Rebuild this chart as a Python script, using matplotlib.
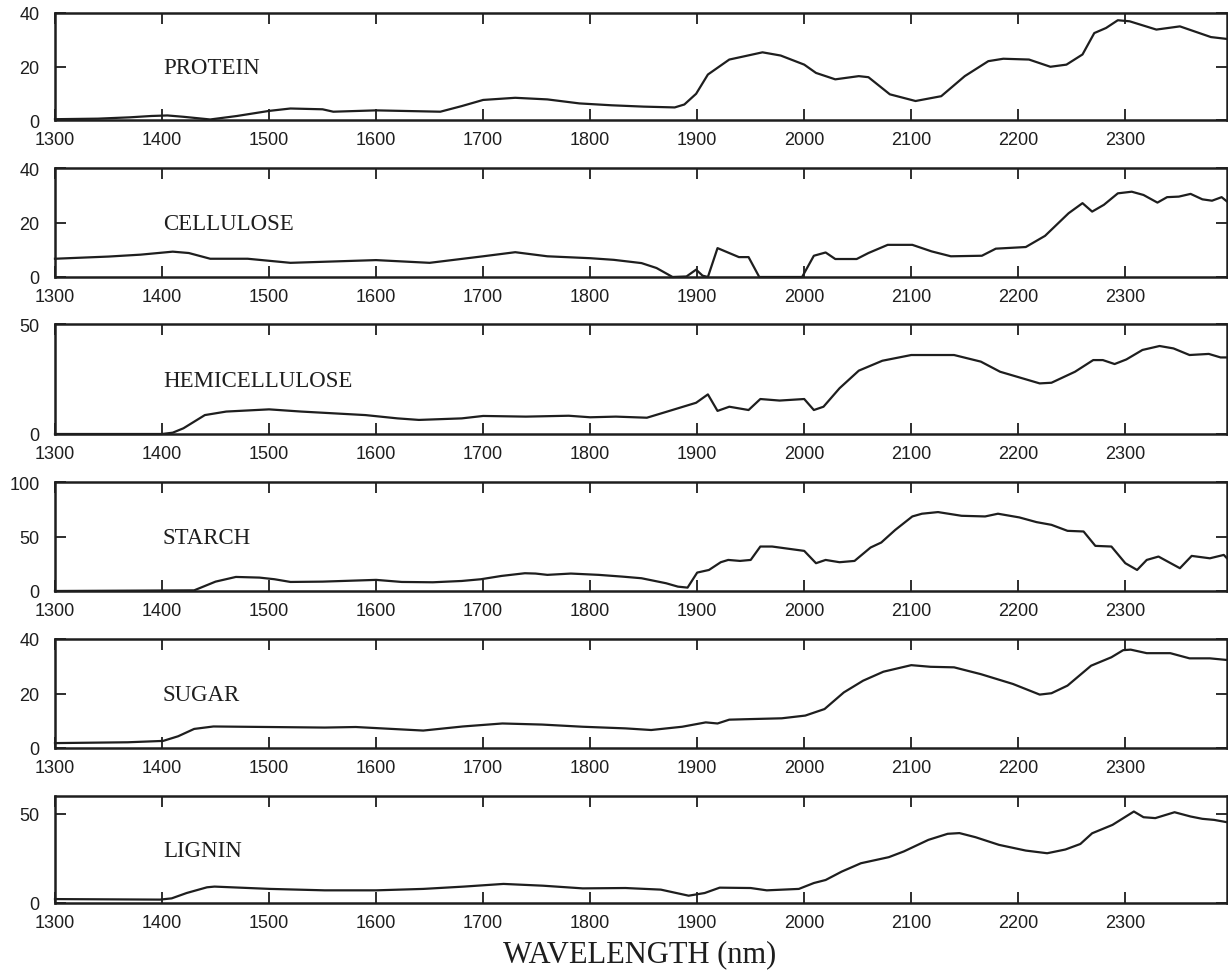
import matplotlib
matplotlib.use("Agg")
import matplotlib.pyplot as plt

# wavelength (nm) and values
protein_wl = [1300, 1340, 1370, 1390, 1405, 1420, 1445, 1470, 1500, 1520, 1550, 1560, 1600, 1660, 1680,
              1700, 1730, 1760, 1790, 1820, 1850, 1879, 1888, 1899, 1910, 1930, 1945, 1961, 1978, 2000,
              2011, 2029, 2051, 2060, 2080, 2104, 2128, 2150, 2172, 2186, 2210, 2230, 2245, 2260, 2271,
              2282, 2293, 2304, 2329, 2351, 2380, 2395]
protein = [0.3, 0.5, 1.0, 1.5, 1.7, 1.2, 0.2, 1.5, 3.4, 4.3, 4.0, 3.1, 3.6, 3.1, 5.2,
           7.5, 8.3, 7.7, 6.2, 5.5, 5.0, 4.7, 5.8, 9.8, 17.0, 22.6, 23.9, 25.3, 24.1, 20.7,
           17.6, 15.2, 16.4, 16.0, 9.6, 7.1, 8.9, 16.4, 22.0, 22.9, 22.6, 19.9, 20.7, 24.5, 32.5,
           34.4, 37.3, 36.9, 33.8, 35.0, 31.0, 30.3]

cellulose_wl = [1300, 1350, 1380, 1410, 1425, 1445, 1480, 1520, 1560, 1600, 1650, 1700, 1730, 1760, 1800,
                1822, 1848, 1862, 1877, 1890, 1899, 1905, 1910, 1919, 1939, 1948, 1958, 1998, 2009, 2020,
                2029, 2049, 2060, 2078, 2101, 2119, 2137, 2166, 2179, 2207, 2225, 2247, 2260, 2269, 2280,
                2293, 2306, 2317, 2330, 2339, 2350, 2361, 2372, 2381, 2390, 2395]
cellulose = [6.7, 7.5, 8.2, 9.3, 8.8, 6.7, 6.7, 5.2, 5.7, 6.2, 5.2, 7.6, 9.1, 7.6, 6.9,
             6.3, 5.1, 3.3, 0, 0.2, 2.7, 0.5, 0, 10.6, 7.3, 7.3, 0, 0, 7.8, 9.0,
             6.6, 6.6, 8.8, 11.8, 11.8, 9.4, 7.6, 7.8, 10.4, 11.0, 15.1, 23.4, 27.1, 24.0, 26.5,
             30.7, 31.3, 30.1, 27.3, 29.3, 29.5, 30.5, 28.5, 28.0, 29.3, 27.7]

hemi_wl = [1300, 1400, 1410, 1420, 1440, 1460, 1500, 1530, 1560, 1590, 1620, 1640, 1680, 1700, 1740,
           1780, 1800, 1824, 1853, 1872, 1899, 1910, 1919, 1930, 1948, 1959, 1977, 2000, 2009, 2018,
           2033, 2051, 2073, 2100, 2140, 2165, 2183, 2220, 2231, 2253, 2270, 2279, 2290, 2301, 2316,
           2332, 2345, 2360, 2378, 2389, 2395]
hemi = [0, 0, 0.6, 2.6, 8.6, 10.2, 11.2, 10.2, 9.4, 8.6, 7.1, 6.4, 7.1, 8.2, 7.9,
        8.3, 7.6, 7.9, 7.4, 10.2, 14.2, 18.0, 10.5, 12.4, 10.9, 15.9, 15.2, 15.9, 10.9, 12.4,
        20.8, 28.8, 33.3, 35.9, 35.9, 32.9, 28.3, 23.0, 23.3, 28.3, 33.6, 33.6, 31.8, 33.9, 38.2,
        40.0, 38.9, 35.9, 36.4, 34.8, 34.8]

starch_wl = [1300, 1430, 1450, 1469, 1491, 1505, 1520, 1550, 1600, 1624, 1653, 1680, 1698, 1717, 1739,
             1749, 1760, 1782, 1808, 1830, 1848, 1871, 1882, 1891, 1900, 1911, 1922, 1929, 1940, 1950,
             1959, 1970, 2000, 2011, 2020, 2033, 2047, 2062, 2072, 2085, 2101, 2110, 2125, 2147, 2169,
             2181, 2201, 2217, 2231, 2246, 2261, 2272, 2287, 2300, 2311, 2320, 2331, 2351, 2362, 2379,
             2392, 2395]
starch = [0, 0.6, 8.6, 12.9, 12.3, 10.8, 8.3, 8.6, 10.2, 8.3, 8.0, 9.2, 10.8, 13.8, 16.3,
          16.0, 14.8, 16.0, 14.8, 13.2, 11.7, 7.1, 4.0, 3.1, 16.9, 19.3, 26.4, 28.5, 27.6, 28.5,
          40.8, 40.8, 36.8, 25.5, 28.5, 26.4, 27.6, 39.9, 44.5, 56.0, 68.4, 70.9, 72.4, 69.0, 68.4,
          70.9, 67.5, 63.2, 60.7, 55.2, 54.6, 41.4, 40.8, 25.5, 19.3, 28.5, 31.6, 20.9, 32.2, 30.0,
          33.1, 30.0]

sugar_wl = [1300, 1368, 1401, 1415, 1430, 1448, 1500, 1552, 1581, 1644, 1681, 1718, 1755, 1793, 1833,
            1857, 1886, 1908, 1919, 1930, 1949, 1979, 2001, 2019, 2037, 2055, 2074, 2100, 2118, 2140,
            2165, 2195, 2220, 2231, 2246, 2268, 2287, 2298, 2305, 2320, 2342, 2360, 2379, 2395]
sugar = [1.8, 2.1, 2.6, 4.3, 7.0, 7.9, 7.7, 7.5, 7.7, 6.4, 7.9, 9.0, 8.6, 7.8, 7.2,
         6.6, 7.8, 9.4, 9.0, 10.4, 10.6, 10.9, 11.9, 14.3, 20.4, 24.7, 28.0, 30.4, 29.8, 29.6,
         27.1, 23.5, 19.6, 20.1, 22.9, 30.2, 33.3, 35.9, 36.1, 34.8, 34.8, 32.9, 32.9, 32.3]

lignin_wl = [1300, 1398, 1409, 1423, 1442, 1449, 1501, 1552, 1600, 1644, 1682, 1719, 1756, 1793, 1833,
             1866, 1892, 1907, 1921, 1950, 1965, 1995, 2009, 2020, 2035, 2053, 2079, 2093, 2116, 2134,
             2145, 2160, 2182, 2207, 2227, 2244, 2258, 2269, 2288, 2308, 2317, 2328, 2346, 2361, 2372,
             2383, 2395]
lignin = [2.2, 1.9, 2.6, 5.6, 8.8, 9.2, 7.9, 7.1, 7.1, 7.9, 9.2, 10.7, 9.7, 8.2, 8.4,
          7.5, 4.1, 5.6, 8.6, 8.4, 7.1, 7.9, 11.2, 12.9, 17.6, 22.3, 25.7, 28.9, 35.4, 38.8,
          39.2, 36.9, 32.6, 29.4, 27.9, 30.0, 33.1, 39.1, 43.8, 51.3, 48.1, 47.6, 50.9, 48.5, 47.2,
          46.6, 45.3]

names = ["PROTEIN", "CELLULOSE", "HEMICELLULOSE", "STARCH", "SUGAR", "LIGNIN"]
series = [(protein_wl, protein), (cellulose_wl, cellulose), (hemi_wl, hemi),
          (starch_wl, starch), (sugar_wl, sugar), (lignin_wl, lignin)]
ylims = [40, 40, 50, 100, 40, 60]
yticks = [[0, 20, 40], [0, 20, 40], [0, 50], [0, 50, 100], [0, 20, 40], [0, 50]]
xticks = [1300, 1400, 1500, 1600, 1700, 1800, 1900, 2000, 2100, 2200, 2300]

# panel top / bottom in pixels
panel_px = [(14, 121), (169, 278), (325, 435), (483, 592), (640, 749), (797, 904)]

W, H = 1228, 978
ink = "#1e1e1e"
fig = plt.figure(figsize=(W / 100, H / 100), dpi=100)

for i in range(6):
    top, bot = panel_px[i]
    ax = fig.add_axes([55 / W, 1 - bot / H, (W - 56) / W, (bot - top) / H])
    wl, val = series[i]
    ax.plot(wl, val, color=ink, lw=1.6, clip_on=False)
    ax.set_xlim(1300, 2395)
    ax.set_ylim(0, ylims[i])
    ax.set_xticks(xticks)
    ax.set_yticks(yticks[i])
    ax.tick_params(direction="in", top=True, right=True, length=8, width=1.3,
                   color=ink, labelcolor=ink, labelsize=13)
    ax.tick_params(axis="x", pad=8)
    ax.tick_params(axis="y", pad=11)
    for lab in ax.get_xticklabels() + ax.get_yticklabels():
        lab.set_family("Liberation Sans")
    # the 0 label sits a little above the baseline in the reference
    ax.get_yticklabels()[0].set_va("center_baseline")
    for s in ax.spines.values():
        s.set_linewidth(1.8)
        s.set_color(ink)
    ax.text(0.092, 0.49, names[i], transform=ax.transAxes, ha="left", va="center",
            family="Liberation Serif", fontsize=16.5, color=ink)

fig.text(0.521, 1 - 955 / H, "WAVELENGTH (nm)", ha="center", va="center",
         family="Liberation Serif", fontsize=22, color=ink)

fig.savefig("out.png", dpi=100)
